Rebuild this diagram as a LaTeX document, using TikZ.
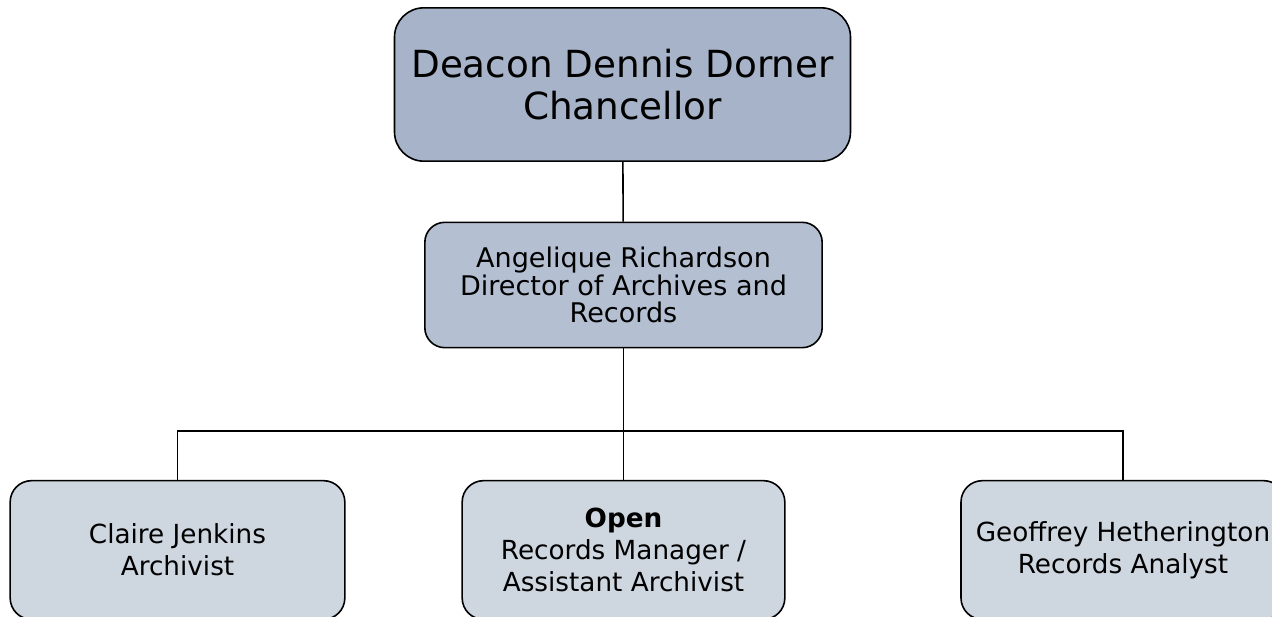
\documentclass[tikz,border=0pt]{standalone}
\usepackage{fontspec}
\setmainfont{DejaVu Sans}
\definecolor{ChiefFill}{RGB}{166,179,200}
\definecolor{DirFill}{RGB}{180,192,210}
\definecolor{StaffFill}{RGB}{206,214,224}

\tikzset{
Chief/.style={draw=black, fill=ChiefFill, rounded corners=22pt, line width=1.2pt,
        minimum width=342pt, minimum height=115pt, align=center, inner sep=0pt,
        font=\fontsize{28}{32}\selectfont},
Director/.style={draw=black, fill=DirFill, rounded corners=15pt, line width=1.2pt,
        minimum width=298pt, minimum height=94pt, align=center, inner sep=0pt,
        font=\fontsize{20.3}{20.5}\selectfont},
Staff/.style={draw=black, fill=StaffFill, rounded corners=16pt, line width=1.2pt,
        minimum height=104pt, align=center, inner sep=0pt,
        font=\fontsize{19.7}{24}\selectfont},
OrgLine/.style={draw=black, line width=1.2pt},
}

\begin{document}
\begin{tikzpicture}[x=0.75pt, y=-0.75pt]
	\useasboundingbox (0,0) rectangle (1272,617);
	\node[Chief] (Chancellor) at (622.5,84.5) {Deacon Dennis Dorner\\Chancellor};
	\node[Director] (Archives) at (623.5,285) {Angelique Richardson\\Director of Archives and\\Records};

	\node[Staff, minimum width=251pt] (Archivist) at (177.5,550) {Claire Jenkins\\Archivist};
	\node[Staff, minimum width=242pt] (Manager) at (623.5,550) {\textbf{Open}\\Records Manager /\\Assistant Archivist};
	\node[Staff, minimum width=243pt] (Analyst) at (1123,550) {Geoffrey Hetherington\\Records Analyst};

	\coordinate (Bar) at (623.5,431);
	\draw[OrgLine] (Chancellor) -- (Archives);
	\draw[OrgLine] (Archives) -- (Manager);
	\draw[OrgLine] (Archivist.north) |- (Bar) -| (Analyst.north);
\end{tikzpicture}
\end{document}
